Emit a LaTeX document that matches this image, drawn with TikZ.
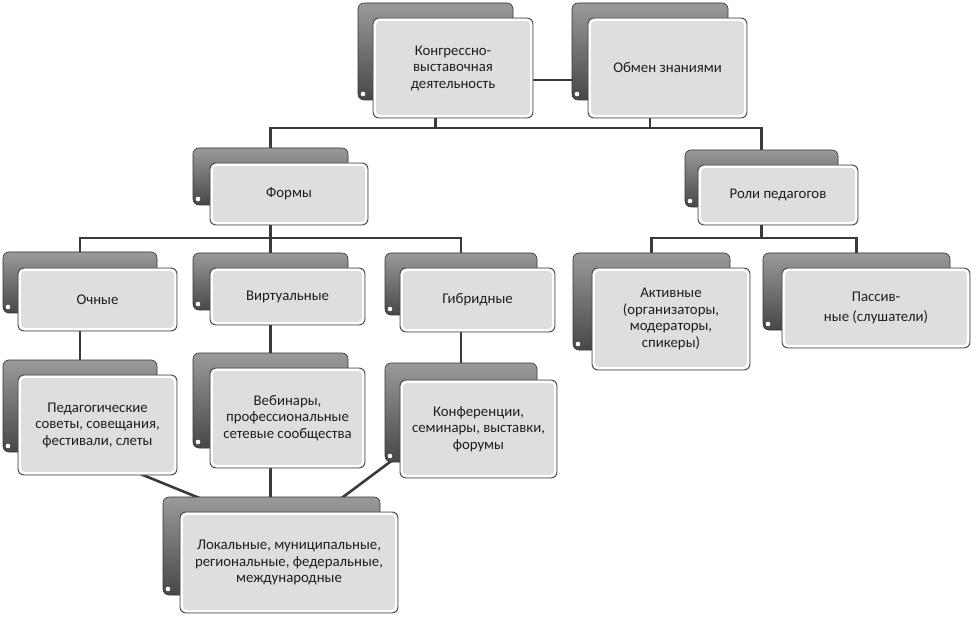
\documentclass[tikz,border=0pt]{standalone}
\usepackage{fontspec}
\setmainfont{Carlito}
\usetikzlibrary{calc}
\definecolor{linec}{HTML}{3A3A3A}
\definecolor{frontfill}{HTML}{DEDEDE}
\definecolor{frontline}{HTML}{4A4A4A}
\definecolor{backtop}{HTML}{9A9A9A}
\definecolor{backbot}{HTML}{474747}
\definecolor{textc}{HTML}{1E1E1E}
\pgfdeclarelayer{conn}
\pgfsetlayers{conn,main}
\tikzset{
  backbox/.style={draw=black!80, line width=0.6pt, rounded corners=6pt,
    top color=backtop, bottom color=backbot, inner sep=0pt, outer sep=0pt,
    path picture={\fill[white] ($(path picture bounding box.south west)+(5,-6)$) circle (2.3pt);}},
  frontbox/.style={draw=frontline, line width=0.9pt, rounded corners=6pt,
    fill=frontfill, inner sep=0pt, outer sep=0pt, align=center, text=textc,
    font=\fontsize{14.8}{16.5}\selectfont,
    path picture={\draw[white, line width=2pt, rounded corners=5pt]
      ($(path picture bounding box.north west)+(1.8,1.8)$) rectangle
      ($(path picture bounding box.south east)+(-1.8,-1.8)$);}},
  connline/.style={draw=linec, line width=2.6pt}
}
\newcommand\backrect[5]{\node[backbox, minimum width={#4-#2}, minimum height={#5-#3}] (#1) at ({(#2+#4)/2},{(#3+#5)/2}) {};}
\newcommand\frontrect[6]{\node[frontbox, minimum width={#4-#2}, minimum height={#5-#3}] (#1) at ({(#2+#4)/2},{(#3+#5)/2}) {#6};}
\begin{document}
\begin{tikzpicture}[x=1pt,y=-1pt]
\useasboundingbox (0,0) rectangle (971,617);
% level 0
\backrect{k1b}{358}{3}{513}{100}
\frontrect{k1}{373}{18}{533}{118}{Конгрессно-\\выставочная\\деятельность}
\backrect{k2b}{572}{3}{728}{100}
\frontrect{k2}{588}{18}{747}{118}{Обмен знаниями}
% level 1
\backrect{formsb}{193}{148}{348}{205}
\frontrect{forms}{210}{163}{368}{225}{Формы}
\backrect{rolesb}{685}{150}{838}{207}
\frontrect{roles}{698}{165}{858}{225}{Роли педагогов}
% level 2
\backrect{ochnb}{3}{252}{157}{313}
\frontrect{ochn}{18}{268}{177}{331}{Очные}
\backrect{virtb}{193}{253}{348}{310}
\frontrect{virt}{210}{268}{365}{325}{Виртуальные}
\backrect{gibrb}{385}{253}{537}{315}
\frontrect{gibr}{400}{268}{555}{332}{Гибридные}
\backrect{aktb}{573}{253}{730}{350}
\frontrect{akt}{592}{268}{750}{370}{Активные\\(организаторы,\\модераторы,\\спикеры)}
\backrect{passb}{763}{253}{950}{330}
\frontrect{pass}{782}{268}{970}{348}{Пассив-\\[3.5pt]ные (слушатели)}
% level 3
\backrect{pedb}{3}{360}{157}{452}
\frontrect{ped}{18}{375}{177}{475}{Педагогические\\советы, совещания,\\фестивали, слеты}
\backrect{webb}{193}{353}{348}{448}
\frontrect{web}{210}{368}{365}{468}{Вебинары,\\профессиональные\\сетевые сообщества}
\backrect{konfb}{385}{363}{537}{462}
\frontrect{konf}{400}{380}{557}{478}{Конференции,\\семинары, выставки,\\форумы}
% level 4
\backrect{lokb}{163}{497}{380}{595}
\frontrect{lok}{180}{512}{398}{613}{Локальные, муниципальные,\\региональные, федеральные,\\международные}
% connector helper coordinates
\coordinate (midk) at (550,80);
\coordinate (bar1) at (0,128);
\coordinate (bar2) at (0,238);
\coordinate (d1s) at (110,461.6);
\coordinate (d1e) at (205,500.3);
\coordinate (d2s) at (400,454.5);
\coordinate (d2e) at (335,503);
\begin{pgfonlayer}{conn}
\draw[connline] (k1 |- midk) -- (k2b |- midk);
\draw[connline] (k1b.center) -- (k1b.center |- bar1);
\draw[connline] (k2b.center) -- (k2b.center |- bar1);
\draw[connline] (formsb.center) -- (formsb.center |- bar1) -- (rolesb.center |- bar1) -- (rolesb.center);
\draw[connline] (formsb.center) -- (formsb.center |- bar2);
\draw[connline] (ochnb.center) -- (ochnb.center |- bar2) -- (gibrb.center |- bar2) -- (gibrb.center);
\draw[connline] (virtb.center |- bar2) -- (virtb.center);
\draw[connline] (rolesb.center) -- (rolesb.center |- bar2);
\draw[connline] (aktb.center) -- (aktb.center |- bar2) -- (passb.center |- bar2) -- (passb.center);
\draw[connline] (ochnb.center) -- (pedb.center);
\draw[connline] (virtb.center) -- (webb.center);
\draw[connline] (gibrb.center) -- (konfb.center);
\draw[connline] (webb.center) -- (webb.center |- lokb.center);
\draw[connline] (d1s) -- (d1e);
\draw[connline] (d2s) -- (d2e);
\end{pgfonlayer}
\end{tikzpicture}
\end{document}
